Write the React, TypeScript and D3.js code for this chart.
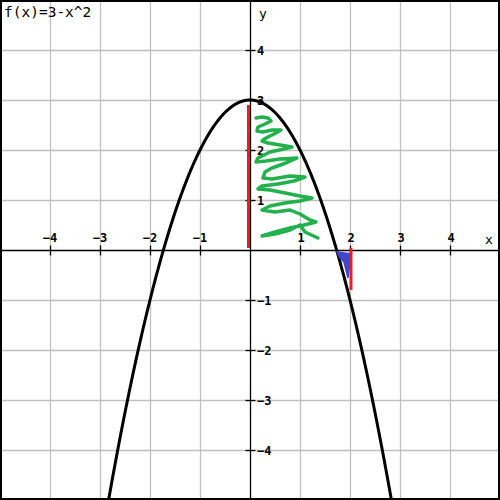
import * as d3 from "d3";

const W = 500;
const H = 500;
const title = "f(x)=3-x^2";
const xDomain = [-5, 5];
const yDomain = [-5, 5];
const xTicks = [-4, -3, -2, -1, 1, 2, 3, 4];
const yTicks = [-4, -3, -2, -1, 1, 2, 3, 4];
const gridValues = [-4, -3, -2, -1, 1, 2, 3, 4];
const curveFrom = -3.2;
const curveTo = 3.2;

// hand-drawn marks on the plot, in graph units
const greenX = [
  0.12, 0.24, 0.36, 0.42, 0.3, 0.16, 0.14, 0.26, 0.44, 0.62, 0.48, 0.32, 0.24, 0.36, 0.6, 0.84, 0.68, 0.4,
  0.16, 0.12, 0.32, 0.6, 0.94, 0.72, 0.44, 0.3, 0.26, 0.44, 0.8, 1.1, 0.88, 0.56, 0.24, 0.16, 0.4, 0.7, 1.0,
  1.24, 1.0, 0.7, 0.4, 0.24, 0.5, 0.8, 1.0, 1.2, 1.32, 1.08, 0.8, 0.5, 0.24, 0.5, 0.8, 1.0, 1.1, 1.36,
];
const greenY = [
  2.64, 2.66, 2.64, 2.58, 2.52, 2.46, 2.38, 2.36, 2.4, 2.4, 2.32, 2.24, 2.18, 2.14, 2.1, 2.06, 2.02, 1.96,
  1.84, 1.76, 1.78, 1.82, 1.84, 1.74, 1.64, 1.56, 1.44, 1.42, 1.48, 1.46, 1.38, 1.32, 1.28, 1.22, 1.2, 1.14, 1.08,
  1.04, 0.98, 0.94, 0.88, 0.8, 0.76, 0.8, 0.72, 0.6, 0.56, 0.5, 0.44, 0.36, 0.28, 0.32, 0.4, 0.5, 0.36, 0.24,
];
const blueX = [1.74, 2.02, 1.96, 1.88, 1.8];
const blueY = [-0.04, -0.08, -0.56, -0.24, -0.16];
const redSegments = [
  { x: -0.03, y0: 0.04, y1: 2.9 },
  { x: 2.02, y0: 0.04, y1: -0.8 },
];

const f = (x: number) => 3 - x * x;

export default function App() {
  const x = d3.scaleLinear().domain(xDomain).range([0, W]);
  const y = d3.scaleLinear().domain(yDomain).range([H, 0]);

  const line = d3
    .line<[number, number]>()
    .x((d) => x(d[0]))
    .y((d) => y(d[1]));

  const curvePts: [number, number][] = d3
    .range(curveFrom, curveTo + 0.001, 0.02)
    .map((v) => [v, f(v)]);

  const green: [number, number][] = greenX.map((v, i) => [v, greenY[i]]);
  const blue: [number, number][] = blueX.map((v, i) => [v, blueY[i]]);

  const tickFont = "'DejaVu Sans Mono', monospace";

  return (
    <svg
      width={W}
      height={H}
      style={{ position: "absolute", left: 0, top: 0, background: "#fff" }}
    >
      <defs>
        <clipPath id="plot">
          <rect x={0} y={0} width={W} height={H} />
        </clipPath>
      </defs>
      <rect x={0} y={0} width={W} height={H} fill="#fff" />
      {/* grid */}
      {gridValues.map((v) => (
        <line
          key={"gx" + v}
          x1={Math.round(x(v)) + 0.5}
          x2={Math.round(x(v)) + 0.5}
          y1={0}
          y2={H}
          stroke="#c0c0c0"
          strokeWidth={1.3}
        />
      ))}
      {gridValues.map((v) => (
        <line
          key={"gy" + v}
          y1={Math.round(y(v)) + 0.5}
          y2={Math.round(y(v)) + 0.5}
          x1={0}
          x2={W}
          stroke="#c0c0c0"
          strokeWidth={1.3}
        />
      ))}
      {/* axes */}
      <line x1={0} x2={W} y1={y(0) + 0.5} y2={y(0) + 0.5} stroke="#000" strokeWidth={1.3} />
      <line x1={x(0) + 0.5} x2={x(0) + 0.5} y1={0} y2={H} stroke="#000" strokeWidth={1.3} />
      {xTicks.map((v) => (
        <g key={"xt" + v}>
          <line
            x1={x(v) + 0.5}
            x2={x(v) + 0.5}
            y1={y(0) - 4.5}
            y2={y(0) + 5.5}
            stroke="#000"
            strokeWidth={1.3}
          />
          <text
            x={x(v) + (v < 0 ? 0 : 1)}
            y={y(0) - 8}
            textAnchor="middle"
            fontFamily={tickFont}
            fontWeight="bold"
            fontSize={12}
          >
            {v < 0 ? "\u2212" + Math.abs(v) : v}
          </text>
        </g>
      ))}
      {yTicks.map((v) => (
        <g key={"yt" + v}>
          <line
            x1={x(0) - 4.5}
            x2={x(0) + 5.5}
            y1={y(v) + 0.5}
            y2={y(v) + 0.5}
            stroke="#000"
            strokeWidth={1.3}
          />
          <text
            x={x(0) + 7}
            y={y(v) + 4.5}
            fontFamily={tickFont}
            fontWeight="bold"
            fontSize={12}
          >
            {v < 0 ? "\u2212" + Math.abs(v) : v}
          </text>
        </g>
      ))}
      <text x={489} y={244} textAnchor="middle" fontFamily={tickFont} fontSize={13}>
        x
      </text>
      <text x={263} y={18} textAnchor="middle" fontFamily={tickFont} fontSize={13}>
        y
      </text>
      {/* function curve */}
      <g clipPath="url(#plot)">
        <path d={line(curvePts) ?? ""} fill="none" stroke="#000" strokeWidth={3} />
      </g>
      {/* annotations */}
      <path
        d={line(green) ?? ""}
        fill="none"
        stroke="#22b14c"
        strokeWidth={3.5}
        strokeLinecap="round"
        strokeLinejoin="round"
      />
      <path d={(line(blue) ?? "") + "Z"} fill="#3f48cc" stroke="#3f48cc" strokeWidth={1.5} />
      {redSegments.map((s, i) => (
        <line
          key={"r" + i}
          x1={x(s.x)}
          x2={x(s.x)}
          y1={y(s.y0)}
          y2={y(s.y1)}
          stroke="#ed1c24"
          strokeWidth={3}
        />
      ))}
      <text x={4} y={17} fontFamily={tickFont} fontSize={14.5}>
        {title}
      </text>
      <rect x={1} y={1} width={W - 2} height={H - 2} fill="none" stroke="#000" strokeWidth={2} />
    </svg>
  );
}
